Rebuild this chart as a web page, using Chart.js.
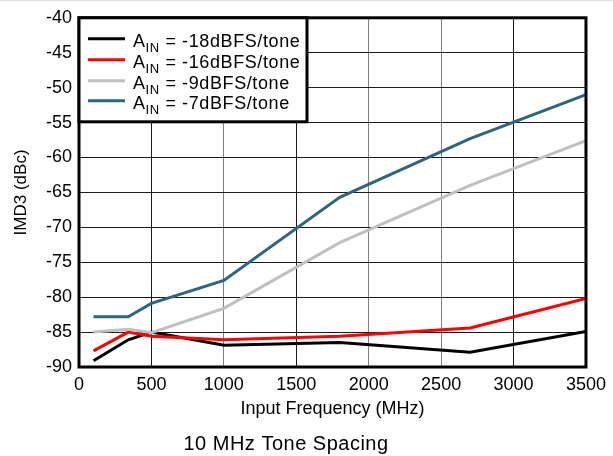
<!DOCTYPE html>
<html>
<head>
<meta charset="utf-8">
<script src="https://cdn.jsdelivr.net/npm/chart.js@4.4.0/dist/chart.umd.min.js"></script>
<style>
  html, body { margin: 0; padding: 0; background: #fff; }
  #wrap { width: 613px; height: 456px; position: relative; }
</style>
</head>
<body>
<div id="wrap"><canvas id="c" width="613" height="456"></canvas></div>
<script>
// ---- data ----
const frequencies = [100, 340, 500, 1000, 1800, 2700, 3500];
const imd3_m18 = [-89.1, -86.1, -85.0, -86.9, -86.5, -87.9, -84.9];
const imd3_m16 = [-87.7, -85.0, -85.6, -86.1, -85.6, -84.4, -80.2];
const imd3_m9  = [-85.0, -84.6, -85.1, -81.6, -72.2, -64.0, -57.6];
const imd3_m7  = [-82.8, -82.8, -80.9, -77.6, -65.7, -57.3, -51.0];
const seriesLabels = ['-18dBFS/tone', '-16dBFS/tone', '-9dBFS/tone', '-7dBFS/tone'];
const seriesColors = ['#000000', '#ff0000', '#c0c0c0', '#2e6680'];
const xTicks = [0, 500, 1000, 1500, 2000, 2500, 3000, 3500];
const yTicks = [-90, -85, -80, -75, -70, -65, -60, -55, -50, -45, -40];
const xTitle = 'Input Frequency (MHz)';
const yTitle = 'IMD3 (dBc)';
const subTitle = '10 MHz Tone Spacing';

const FONT = '"Liberation Sans", Arial, Helvetica, sans-serif';
const allSeries = [imd3_m18, imd3_m16, imd3_m9, imd3_m7];

const datasets = allSeries.map((vals, i) => ({
  label: 'AIN = ' + seriesLabels[i],
  data: frequencies.map((f, k) => ({ x: f, y: vals[k] })),
  borderColor: seriesColors[i],
  backgroundColor: seriesColors[i],
  borderWidth: 3,
  pointRadius: 0,
  tension: 0,
  fill: false,
  order: 4 - i
}));

const grayX = new Set([1000, 2000, 2500]);

const framePlugin = {
  id: 'frameAndLegend',
  afterDraw(chart) {
    const ctx = chart.ctx;
    const a = chart.chartArea;
    ctx.save();
    // faint line at the very top of the picture
    ctx.strokeStyle = '#e0e0e0';
    ctx.lineWidth = 1;
    ctx.beginPath(); ctx.moveTo(0, 0.5); ctx.lineTo(chart.width, 0.5); ctx.stroke();

    // plot frame
    ctx.strokeStyle = '#000';
    ctx.lineWidth = 3;
    ctx.strokeRect(a.left, a.top, a.right - a.left, a.bottom - a.top);

    // legend box
    const lx = a.left, ly = a.top, lw = 228, lh = 104;
    ctx.fillStyle = '#fff';
    ctx.fillRect(lx, ly, lw, lh);
    ctx.strokeRect(lx, ly, lw, lh);

    const rowLine = [21, 42, 63, 83];
    if ('letterSpacing' in ctx) ctx.letterSpacing = '0.6px';
    for (let i = 0; i < seriesLabels.length; i++) {
      const yLine = ly + rowLine[i];
      ctx.strokeStyle = seriesColors[i];
      ctx.lineWidth = 3;
      ctx.beginPath();
      ctx.moveTo(lx + 9, yLine);
      ctx.lineTo(lx + 46, yLine);
      ctx.stroke();

      const base = yLine + 8;
      let x = lx + 54;
      ctx.fillStyle = '#000';
      ctx.textBaseline = 'alphabetic';
      ctx.textAlign = 'left';
      ctx.font = '18px ' + FONT;
      ctx.fillText('A', x, base);
      x += ctx.measureText('A').width;
      ctx.font = '13px ' + FONT;
      ctx.fillText('IN', x, base + 5);
      x += ctx.measureText('IN').width;
      ctx.font = '18px ' + FONT;
      ctx.fillText(' = ' + seriesLabels[i], x, base);
    }

    // subtitle
    ctx.fillStyle = '#000';
    ctx.font = '20px ' + FONT;
    if ('letterSpacing' in ctx) ctx.letterSpacing = '0.5px';
    ctx.textAlign = 'center';
    ctx.textBaseline = 'alphabetic';
    ctx.fillText(subTitle, 286, 450);
    ctx.restore();
  }
};

new Chart(document.getElementById('c'), {
  type: 'line',
  data: { datasets },
  options: {
    responsive: false,
    animation: false,
    devicePixelRatio: 1,
    layout: { padding: { left: 0, top: 17, right: 20, bottom: 32 } },
    plugins: {
      legend: { display: false },
      tooltip: { enabled: false },
      title: { display: false }
    },
    scales: {
      x: {
        type: 'linear',
        min: 0, max: 3500,
        afterBuildTicks(s) { s.ticks = xTicks.map(v => ({ value: v })); },
        afterFit(s) { s.height = 57; },
        ticks: {
          color: '#000',
          font: { family: FONT, size: 18 },
          padding: 7,
          maxRotation: 0,
          autoSkip: false,
          callback: v => String(v)
        },
        grid: {
          drawTicks: false,
          lineWidth: 1,
          color: c => (c.tick && grayX.has(c.tick.value)) ? '#808080' : '#1a1a1a'
        },
        border: { display: false },
        title: {
          display: true,
          text: xTitle,
          color: '#000',
          font: { family: FONT, size: 18 },
          padding: { top: 0, bottom: 4 }
        }
      },
      y: {
        type: 'linear',
        min: -90, max: -40,
        afterBuildTicks(s) { s.ticks = yTicks.map(v => ({ value: v })); },
        afterFit(s) { s.width = 79; },
        ticks: {
          color: '#000',
          font: { family: FONT, size: 18 },
          padding: 7,
          autoSkip: false,
          callback: v => String(v)
        },
        grid: {
          drawTicks: false,
          lineWidth: 1,
          color: '#1a1a1a'
        },
        border: { display: false },
        title: {
          display: true,
          text: yTitle,
          color: '#000',
          font: { family: FONT, size: 17 },
          padding: { top: 11, bottom: 0 }
        }
      }
    }
  },
  plugins: [framePlugin]
});
</script>
</body>
</html>
